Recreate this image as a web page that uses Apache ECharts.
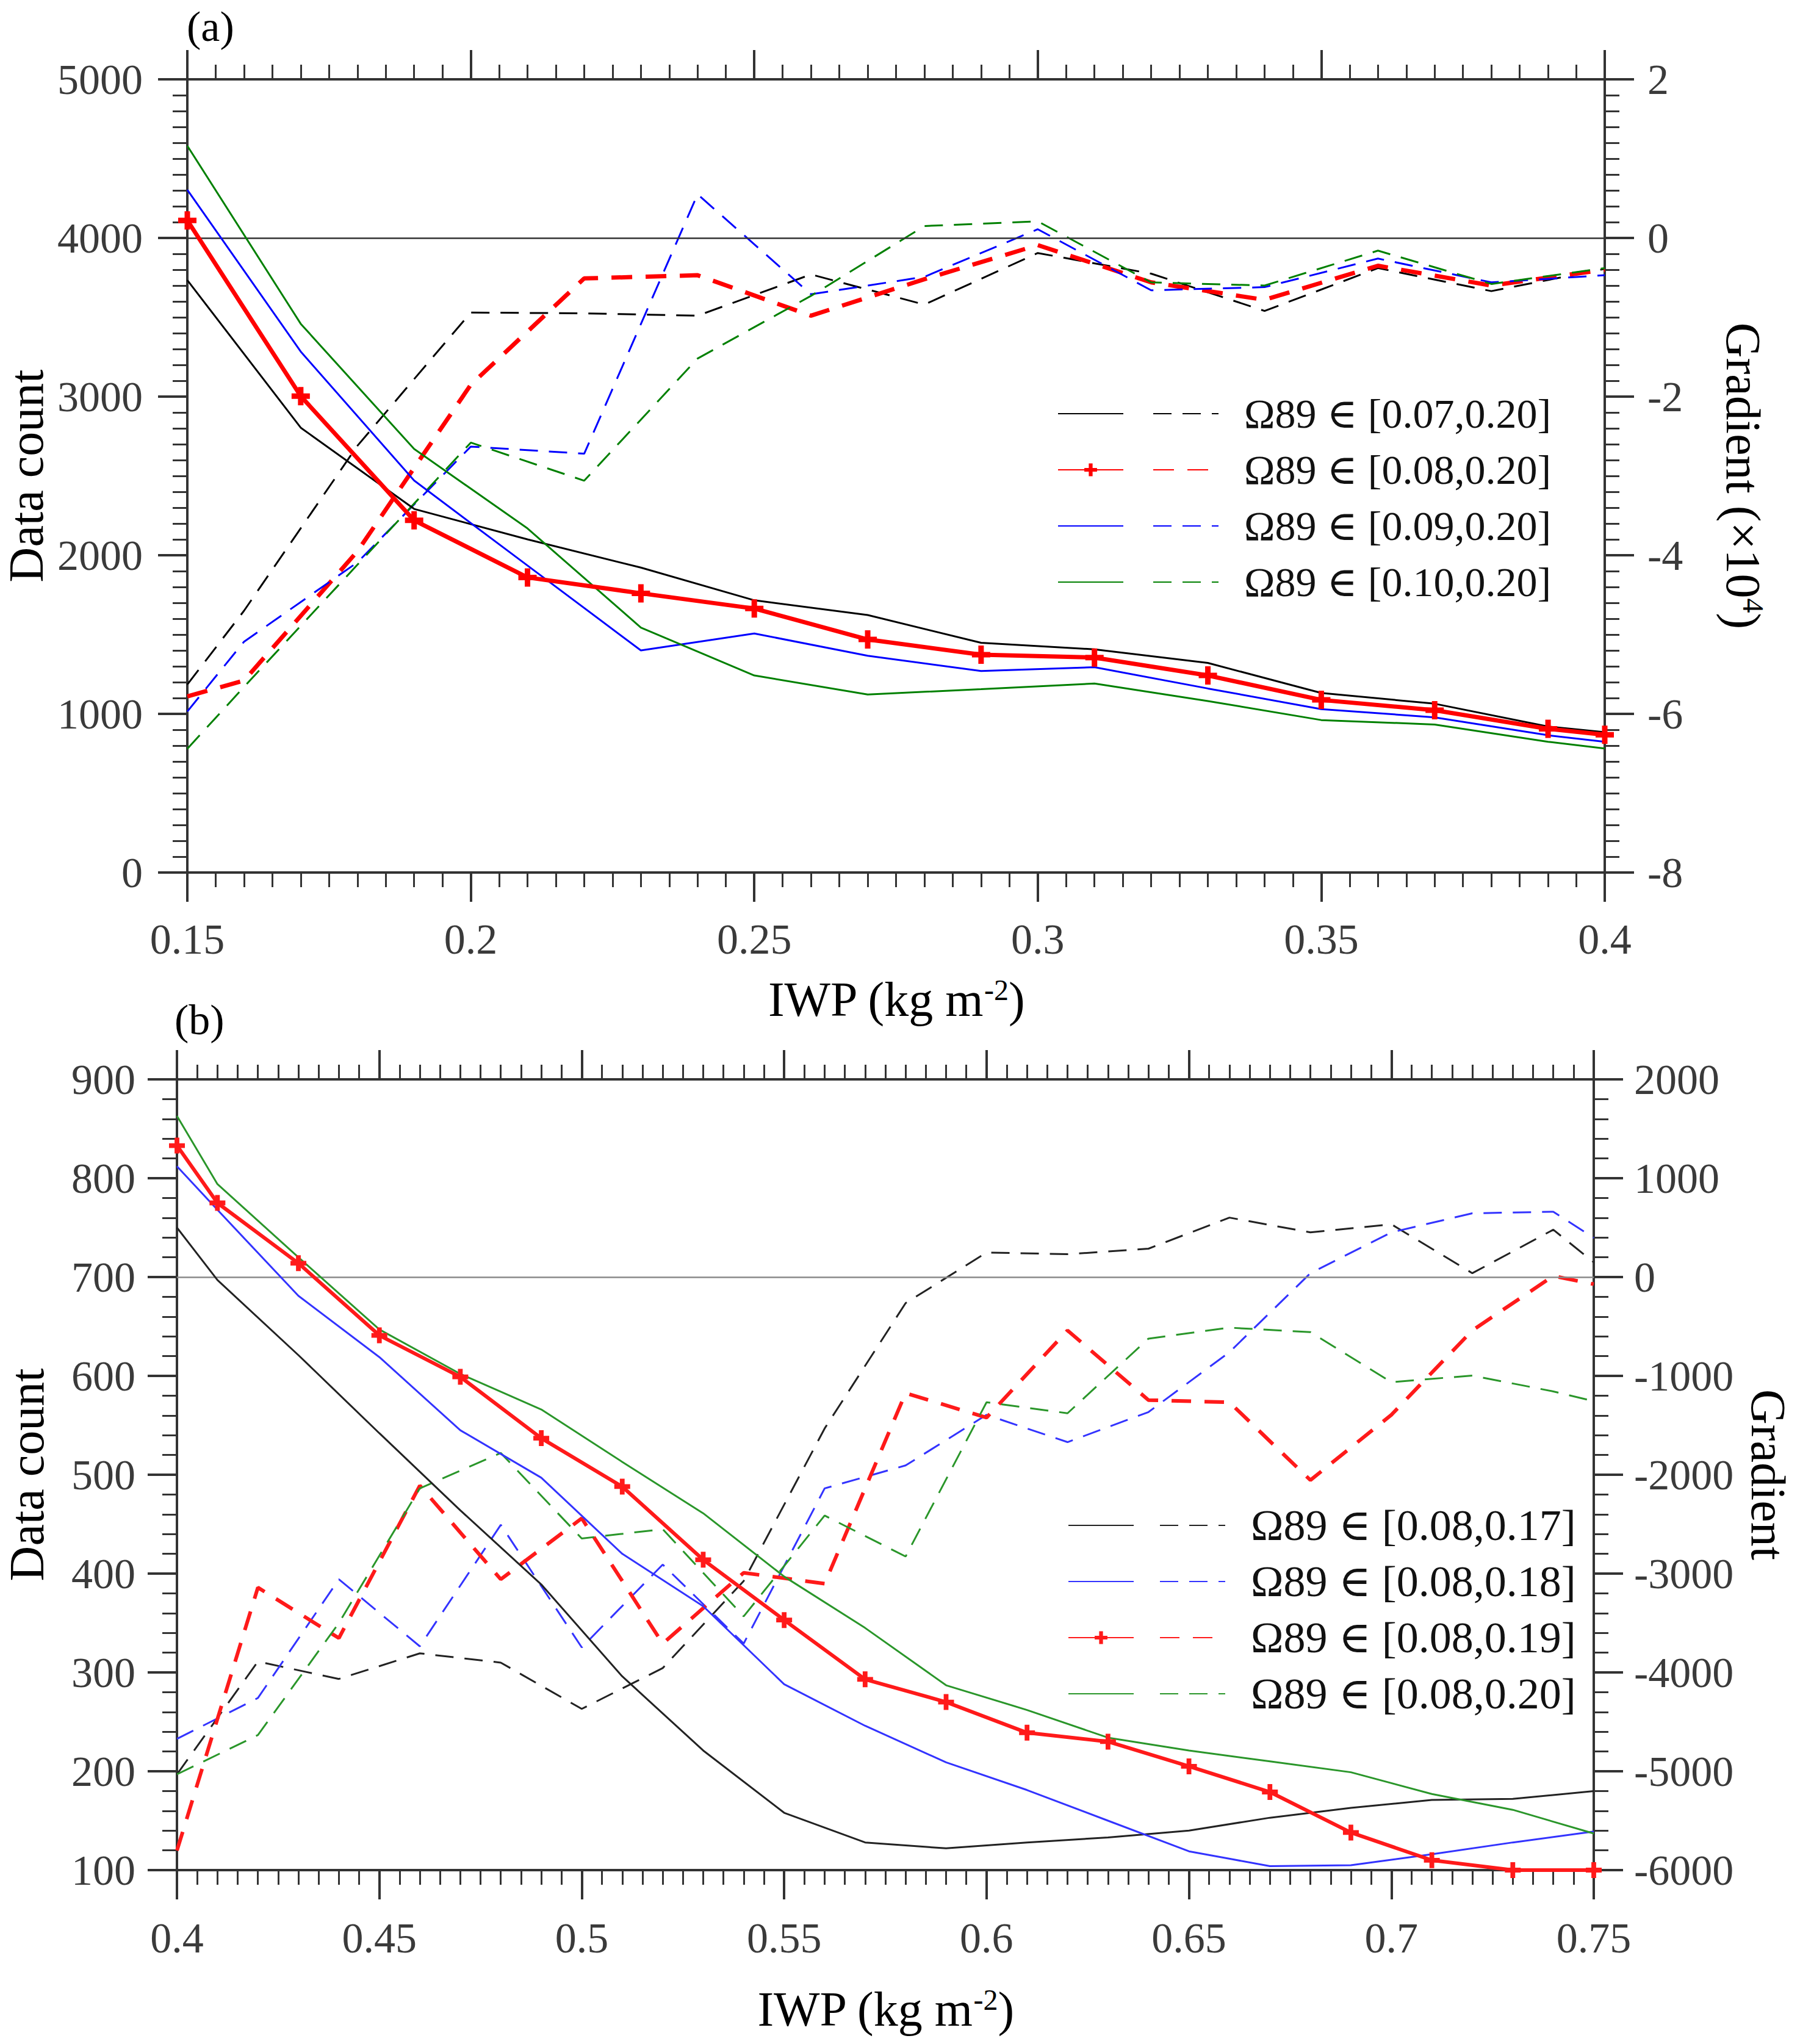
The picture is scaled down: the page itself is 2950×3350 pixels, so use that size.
<!DOCTYPE html>
<html>
<head>
<meta charset="utf-8">
<title>Data count and gradient vs IWP</title>
<script src="https://cdn.jsdelivr.net/npm/echarts@6/dist/echarts.min.js"></script>
<style>
  html, body { margin: 0; padding: 0; background: #fff; font-family: "Liberation Serif", "DejaVu Serif", serif; }
  #chart { width: 2950px; height: 3350px; }
</style>
</head>
<body>
<div id="chart"></div>
<script>
// ---- panel (a): lower bound of Ω89 varies, upper bound 0.20 ----
const xCountA = [0.15, 0.17, 0.19, 0.21, 0.23, 0.25, 0.27, 0.29, 0.31, 0.33, 0.35, 0.37, 0.39, 0.40];
const countA07 = [3734, 2804, 2292, 2100, 1922, 1716, 1623, 1448, 1407, 1321, 1132, 1064, 920, 885];
const countA08 = [4111, 3003, 2220, 1860, 1760, 1664, 1469, 1373, 1355, 1242, 1088, 1023, 906, 868];
const countA09 = [4303, 3284, 2471, 1935, 1400, 1507, 1366, 1270, 1294, 1160, 1030, 978, 865, 824];
const countA10 = [4581, 3459, 2670, 2169, 1544, 1242, 1122, 1156, 1191, 1081, 961, 933, 824, 782];

const xGradA = [0.15, 0.16, 0.18, 0.20, 0.22, 0.24, 0.26, 0.28, 0.30, 0.32, 0.34, 0.36, 0.38, 0.40];
const gradA07 = [-5.63, -4.70, -2.62, -0.94, -0.95, -0.98, -0.46, -0.84, -0.19, -0.45, -0.92, -0.38, -0.67, -0.39];
const gradA08 = [-5.78, -5.58, -3.95, -1.85, -0.51, -0.47, -0.98, -0.52, -0.09, -0.56, -0.78, -0.35, -0.60, -0.40];
const gradA09 = [-5.97, -5.09, -4.09, -2.63, -2.72, 0.55, -0.71, -0.49, 0.11, -0.66, -0.62, -0.26, -0.56, -0.47];
const gradA10 = [-6.44, -5.66, -4.12, -2.58, -3.06, -1.52, -0.73, 0.15, 0.21, -0.56, -0.60, -0.16, -0.58, -0.38];

const labelsA = ['Ω89 ∈ [0.07,0.20]', 'Ω89 ∈ [0.08,0.20]', 'Ω89 ∈ [0.09,0.20]', 'Ω89 ∈ [0.10,0.20]'];

// ---- panel (b): lower bound 0.08, upper bound varies ----
const xCountB = [0.40, 0.41, 0.43, 0.45, 0.47, 0.49, 0.51, 0.53, 0.55, 0.57, 0.59, 0.61, 0.63, 0.65, 0.67, 0.69, 0.71, 0.73, 0.75];
const countB17 = [750, 697, 621, 542, 464, 389, 296, 221, 158, 128, 122, 128, 133, 140, 153, 163, 171, 172, 180];
const countB18 = [812, 768, 681, 619, 545, 497, 420, 367, 288, 246, 209, 181, 150, 119, 104, 105, 116, 128, 139];
const countB19 = [833, 775, 714, 641, 599, 537, 488, 414, 353, 293, 270, 239, 230, 205, 179, 138, 110, 100, 100];
const countB20 = [863, 794, 720, 647, 602, 566, 513, 461, 397, 345, 287, 262, 234, 221, 210, 199, 177, 161, 137];

const xGradB = [0.40, 0.42, 0.44, 0.46, 0.48, 0.50, 0.52, 0.54, 0.56, 0.58, 0.60, 0.62, 0.64, 0.66, 0.68, 0.70, 0.72, 0.74, 0.75];
const gradB17 = [-5031, -3890, -4066, -3807, -3901, -4369, -3956, -3075, -1532, -264, 248, 231, 287, 601, 452, 534, 39, 479, 149];
const gradB18 = [-4672, -4259, -3058, -3736, -2507, -3747, -2909, -3708, -2138, -1906, -1394, -1670, -1366, -760, 39, 452, 645, 661, 397];
const gradB19 = [-5802, -3141, -3653, -2110, -3058, -2441, -3708, -2992, -3102, -1174, -1422, -540, -1245, -1267, -2055, -1394, -540, 11, -72];
const gradB20 = [-5031, -4634, -3500, -2138, -1780, -2645, -2551, -3433, -2413, -2827, -1267, -1378, -623, -512, -557, -1063, -997, -1157, -1256];

const labelsB = ['Ω89 ∈ [0.08,0.17]', 'Ω89 ∈ [0.08,0.18]', 'Ω89 ∈ [0.08,0.19]', 'Ω89 ∈ [0.08,0.20]'];

const FONT = '"Liberation Serif", "DejaVu Serif", serif';
const AXIS = '#333';
const TICKTXT = '#3a3a3a';
// invisible suffixes keep series names unique (solid vs dashed, panel a vs panel b)
const DASH_TAG = '\u200b';
const PANEL_B_TAG = '\u200c';
const stripTags = n => n.replace(/[\u200b\u200c]/g, '');
const PLUS = 'path://M3.5,0L6.5,0L6.5,3.5L10,3.5L10,6.5L6.5,6.5L6.5,10L3.5,10L3.5,6.5L0,6.5L0,3.5L3.5,3.5Z';

const pairs = (xs, ys) => xs.map((x, i) => [x, ys[i]]);

function axisBase(min, max, interval, minorSplit, labelMargin, showLabel) {
  return {
    type: 'value', min: min, max: max, interval: interval,
    axisLine: { show: true, onZero: false, lineStyle: { color: AXIS, width: 4 } },
    axisTick: { show: true, inside: false, length: 48, lineStyle: { color: AXIS, width: 4 } },
    minorTick: { show: true, splitNumber: minorSplit, length: 24, lineStyle: { color: AXIS, width: 3 } },
    splitLine: { show: false },
    axisLabel: {
      show: showLabel, margin: labelMargin, fontFamily: FONT, fontSize: 70, color: TICKTXT,
      formatter: v => String(+v.toFixed(3))
    }
  };
}

const nameStyle = {
  fontFamily: FONT, fontSize: 80, color: '#000',
  rich: { s: { fontFamily: FONT, fontSize: 48, color: '#000', verticalAlign: 'top', lineHeight: 56 } }
};

function xAxis(grid, min, max, position, name, nameGap, margin) {
  const a = axisBase(min, max, 0.05, 10, margin, position === 'bottom');
  a.gridIndex = grid;
  a.position = position;
  if (name) {
    a.name = name; a.nameLocation = 'middle'; a.nameGap = nameGap; a.nameTextStyle = nameStyle;
  }
  return a;
}

function yAxis(grid, min, max, interval, minorSplit, position, name, nameGap, margin) {
  const a = axisBase(min, max, interval, minorSplit, margin, true);
  a.gridIndex = grid;
  a.position = position;
  a.name = name; a.nameLocation = 'middle'; a.nameGap = nameGap;
  a.nameRotate = position === 'left' ? 90 : -90;
  a.nameTextStyle = nameStyle;
  return a;
}

function solid(name, xi, yi, xs, ys, color, width, markerSize) {
  return {
    name: name, type: 'line', xAxisIndex: xi, yAxisIndex: yi,
    data: pairs(xs, ys),
    symbol: markerSize ? PLUS : 'none', symbolSize: markerSize || 0,
    showSymbol: !!markerSize, showAllSymbol: true,
    itemStyle: { color: color },
    lineStyle: { color: color, width: width, type: 'solid' },
    z: markerSize ? 10 : 5, silent: true
  };
}

function dashed(name, xi, yi, xs, ys, color, width, dash) {
  return {
    name: name + DASH_TAG, type: 'line', xAxisIndex: xi, yAxisIndex: yi,
    data: pairs(xs, ys),
    symbol: 'none', showSymbol: false,
    itemStyle: { color: color },
    lineStyle: { color: color, width: width, type: dash },
    z: 4, silent: true
  };
}

function zeroLine(color) {
  return {
    silent: true, symbol: 'none', animation: false,
    label: { show: false },
    lineStyle: { color: color, width: 2.5, type: 'solid' },
    data: [{ yAxis: 0 }]
  };
}

// two legends side by side: solid samples (no text) and dashed samples with the label
function legends(names, markerIdx, solidLeft, dashLeft, top, fontSize) {
  const common = {
    orient: 'vertical', top: top, padding: 0, itemWidth: 107, itemHeight: 26, itemGap: 12,
    selectedMode: false,
    textStyle: { fontFamily: FONT, fontSize: fontSize, color: '#111', lineHeight: 80, padding: [0, 0, 0, 37] }
  };
  const hide = { opacity: 0 };
  return [
    Object.assign({}, common, {
      left: solidLeft,
      data: names.map((l, i) => i === markerIdx ? { name: l } : { name: l, itemStyle: hide }),
      formatter: () => '\u2002'
    }),
    Object.assign({}, common, {
      left: dashLeft,
      data: names.map(l => ({ name: l + DASH_TAG, itemStyle: hide })),
      formatter: stripTags
    })
  ];
}

const namesA = labelsA.slice();
const namesB = labelsB.map(l => l + PANEL_B_TAG);

const colA = ['#000000', '#ff0000', '#0000ff', '#008000'];
const colB = ['#222222', '#3333ff', '#ff1a1a', '#2a962a'];

const seriesA = [
  solid(namesA[0], 0, 0, xCountA, countA07, colA[0], 3, 0),
  solid(namesA[1], 0, 0, xCountA, countA08, colA[1], 7, 30),
  solid(namesA[2], 0, 0, xCountA, countA09, colA[2], 3, 0),
  solid(namesA[3], 0, 0, xCountA, countA10, colA[3], 3, 0),
  dashed(namesA[0], 0, 1, xGradA, gradA07, colA[0], 3, [30, 18]),
  dashed(namesA[1], 0, 1, xGradA, gradA08, colA[1], 7, [34, 22]),
  dashed(namesA[2], 0, 1, xGradA, gradA09, colA[2], 3, [30, 18]),
  dashed(namesA[3], 0, 1, xGradA, gradA10, colA[3], 3, [30, 18])
];
seriesA[4].markLine = zeroLine('#333');

const seriesB = [
  solid(namesB[0], 2, 2, xCountB, countB17, colB[0], 3, 0),
  solid(namesB[1], 2, 2, xCountB, countB18, colB[1], 3, 0),
  solid(namesB[2], 2, 2, xCountB, countB19, colB[2], 6, 26),
  solid(namesB[3], 2, 2, xCountB, countB20, colB[3], 3, 0),
  dashed(namesB[0], 2, 3, xGradB, gradB17, colB[0], 3, [30, 18]),
  dashed(namesB[1], 2, 3, xGradB, gradB18, colB[1], 3, [30, 18]),
  dashed(namesB[2], 2, 3, xGradB, gradB19, colB[2], 6, [32, 22]),
  dashed(namesB[3], 2, 3, xGradB, gradB20, colB[3], 3, [30, 18])
];
seriesB[4].markLine = zeroLine('#8a8a8a');

const option = {
  animation: false,
  backgroundColor: '#fff',
  textStyle: { fontFamily: FONT },
  title: [
    { text: '(a)', left: 306, top: 8, padding: 0, textStyle: { fontFamily: FONT, fontSize: 70, fontWeight: 'normal', color: '#000' } },
    { text: '(b)', left: 286, top: 1636, padding: 0, textStyle: { fontFamily: FONT, fontSize: 70, fontWeight: 'normal', color: '#000' } }
  ],
  grid: [
    { left: 307, top: 130, width: 2323, height: 1300, outerBoundsMode: 'none', containLabel: false },
    { left: 290, top: 1769, width: 2322, height: 1296, outerBoundsMode: 'none', containLabel: false }
  ],
  xAxis: [
    xAxis(0, 0.15, 0.4, 'bottom', 'IWP (kg m{s|-2})', 168, 74),
    xAxis(0, 0.15, 0.4, 'top', null, 0, 0),
    xAxis(1, 0.4, 0.75, 'bottom', 'IWP (kg m{s|-2})', 188, 76),
    xAxis(1, 0.4, 0.75, 'top', null, 0, 0)
  ],
  yAxis: [
    yAxis(0, 0, 5000, 1000, 10, 'left', 'Data count', 224, 73),
    yAxis(0, -8, 2, 2, 10, 'right', 'Gradient (×10{s|4})', 187, 70),
    yAxis(1, 100, 900, 100, 5, 'left', 'Data count', 206, 68),
    yAxis(1, -6000, 2000, 1000, 5, 'right', 'Gradient', 246, 66)
  ],
  legend: legends(namesA, 1, 1733, 1889, 638, 68).concat(legends(namesB, 2, 1750, 1900, 2460, 72)),
  series: seriesA.concat(seriesB)
};

function draw() {
  const chart = echarts.init(document.getElementById('chart'), null, { renderer: 'svg' });
  chart.setOption(option);
}

if (document.fonts && document.fonts.load) {
  Promise.all([
    document.fonts.load('70px "Liberation Serif"'),
    document.fonts.load('70px "DejaVu Serif"')
  ]).then(draw, draw);
} else {
  draw();
}
</script>
</body>
</html>
